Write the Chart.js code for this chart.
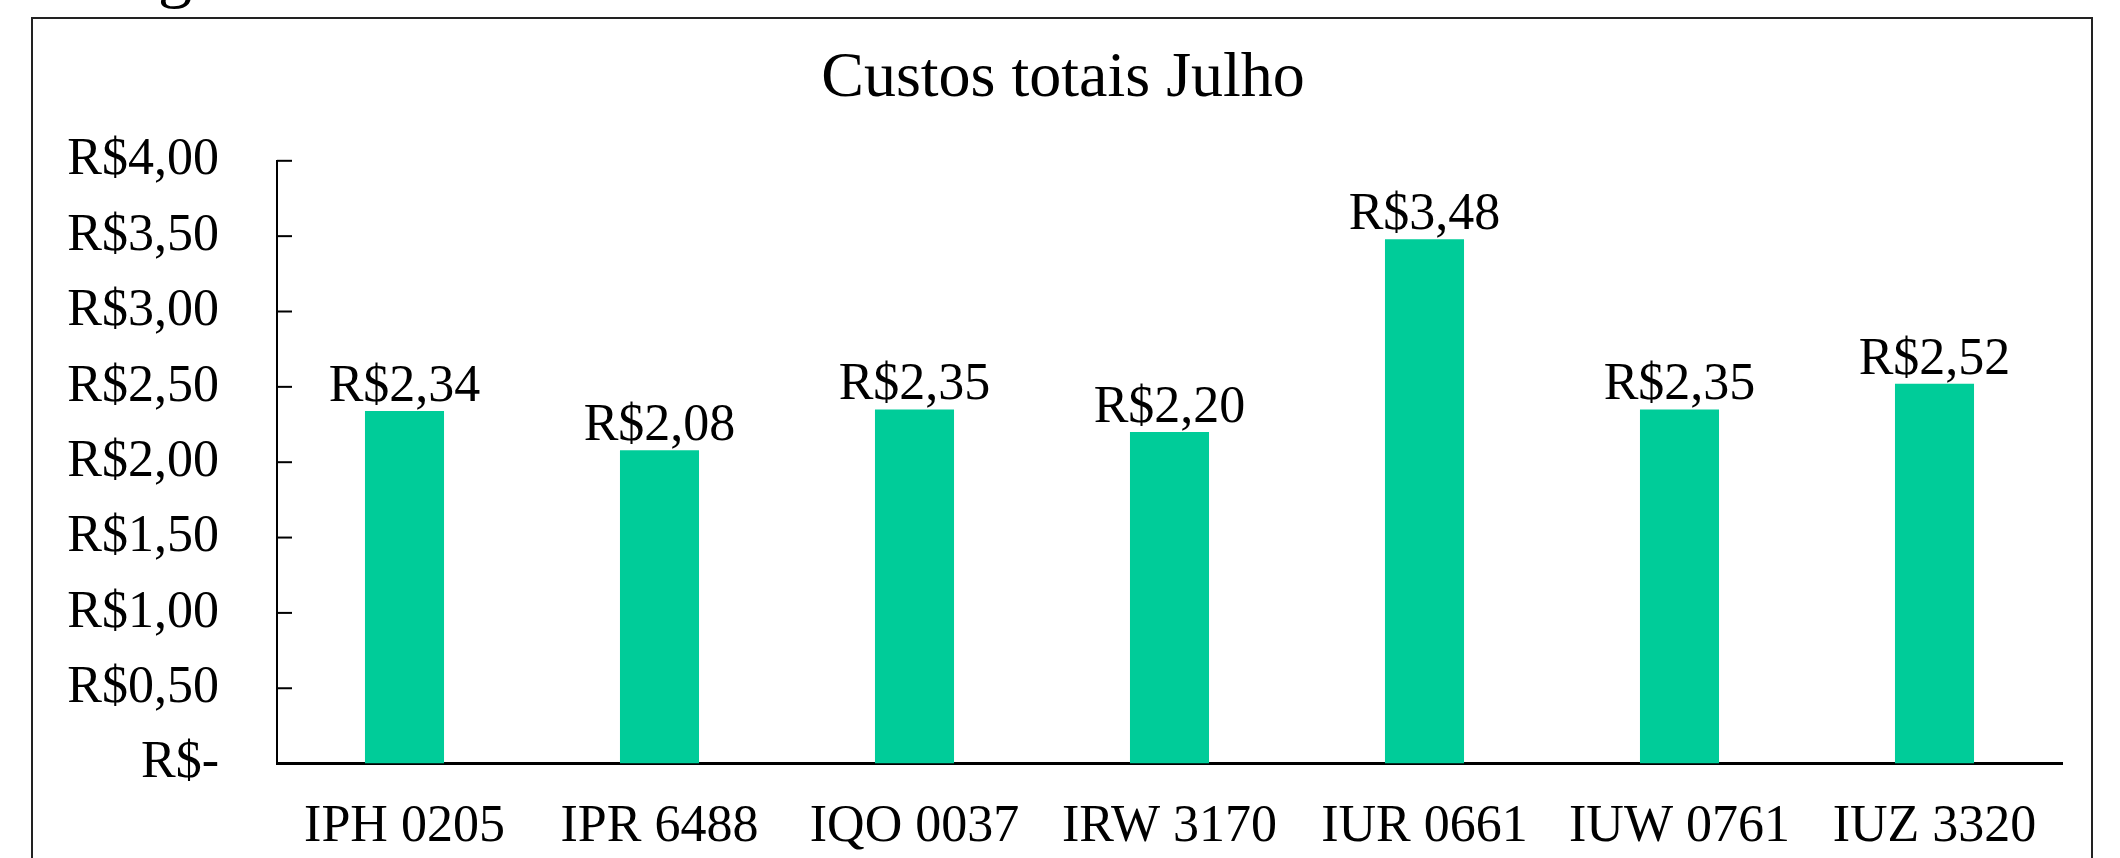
<!DOCTYPE html>
<html lang="pt-BR">

<head>
    <meta charset="UTF-8">
    <script src="https://cdn.jsdelivr.net/npm/chart.js"></script>
    <title>Custos totais Julho</title>
    <style>
        html, body { margin: 0; padding: 0; background: #fff; overflow: hidden; }
        .wrap { position: relative; width: 2120px; height: 858px; }
        canvas { position: absolute; left: 0; top: 0; }
        /* pedaço da legenda da figura acima, cortado no topo */
        .corte { position: absolute; left: 158px; top: -62px; z-index: 2; font: 68px 'Liberation Serif', serif; line-height: 1; color: #000; }
    </style>
</head>

<body>
    <div class="wrap">
        <canvas id="grafico" width="2120" height="858"></canvas>
        <div class="corte">g</div>
    </div>

<script>
    // dados
    var placas = ['IPH 0205', 'IPR 6488', 'IQO 0037', 'IRW 3170', 'IUR 0661', 'IUW 0761', 'IUZ 3320']
    var custos = [2.34, 2.08, 2.35, 2.20, 3.48, 2.35, 2.52]
    var valoresY = [0, 0.5, 1, 1.5, 2, 2.5, 3, 3.5, 4]
    var rotulosY = ['R$-', 'R$0,50', 'R$1,00', 'R$1,50', 'R$2,00', 'R$2,50', 'R$3,00', 'R$3,50', 'R$4,00']

    var fonte = "'Liberation Serif', 'Times New Roman', serif"

    function reais(v) {
        return 'R$' + v.toFixed(2).replace('.', ',')
    }

    // fundo branco + moldura da área do gráfico
    const moldura = {
        id: 'moldura',
        beforeDraw(chart) {
            const ctx = chart.ctx
            ctx.save()
            ctx.fillStyle = '#fff'
            ctx.fillRect(0, 0, chart.width, chart.height)
            ctx.strokeStyle = '#222'
            ctx.lineWidth = 2
            ctx.strokeRect(32, 18, 2060, 900)
            ctx.restore()
        }
    }

    // marcas do eixo Y para dentro
    const marcasY = {
        id: 'marcasY',
        afterDraw(chart) {
            const y = chart.scales.y
            const ctx = chart.ctx
            ctx.save()
            ctx.strokeStyle = '#000'
            ctx.lineWidth = 2
            y.ticks.forEach((t, i) => {
                const py = y.getPixelForTick(i)
                ctx.beginPath()
                ctx.moveTo(y.right, py)
                ctx.lineTo(y.right + 15, py)
                ctx.stroke()
            })
            ctx.restore()
        }
    }

    // rótulos de valor acima das barras
    const rotulos = {
        id: 'rotulos',
        afterDatasetsDraw(chart) {
            const ctx = chart.ctx
            const meta = chart.getDatasetMeta(0)
            ctx.save()
            ctx.fillStyle = '#000'
            ctx.font = '52px ' + fonte
            ctx.textAlign = 'center'
            ctx.textBaseline = 'alphabetic'
            meta.data.forEach((bar, i) => {
                ctx.fillText(reais(custos[i]), bar.x, bar.y - 10)
            })
            ctx.restore()
        }
    }

    const ctx = document.getElementById('grafico')

    new Chart(ctx, {
        type: 'bar',
        data: {
            labels: placas,
            datasets: [{
                label: 'Custos totais Julho',
                data: custos,
                backgroundColor: '#00CC99',
                borderWidth: 0,
                barPercentage: 0.31,
                categoryPercentage: 1
            }]
        },
        options: {
            responsive: false,
            animation: false,
            layout: { padding: { left: 32, right: 26, top: 18, bottom: 0 } },
            plugins: {
                legend: { display: false },
                tooltip: { enabled: false },
                title: {
                    display: true,
                    text: 'Custos totais Julho',
                    color: '#000',
                    font: { family: fonte, size: 64, weight: 'normal' },
                    padding: { top: 23, bottom: 43 }
                }
            },
            scales: {
                x: {
                    grid: { display: false, drawTicks: false },
                    border: { display: true, color: '#000', width: 3 },
                    ticks: {
                        color: '#000',
                        font: { family: fonte, size: 52 },
                        padding: 33,
                        maxRotation: 0,
                        autoSkip: false
                    },
                    afterFit(s) { s.height = s.height - 34 }
                },
                y: {
                    min: 0,
                    max: 4,
                    grid: { display: false, drawTicks: false },
                    border: { display: true, color: '#000', width: 2 },
                    ticks: {
                        stepSize: 0.5,
                        color: '#000',
                        font: { family: fonte, size: 52 },
                        padding: 58,
                        callback: function (v) {
                            const i = valoresY.indexOf(v)
                            return i >= 0 ? rotulosY[i] : ''
                        }
                    },
                    afterFit(s) { s.width = 245 }
                },
                y2: {
                    position: 'right',
                    grid: { display: false, drawTicks: false },
                    border: { display: false },
                    ticks: { display: false },
                    afterFit(s) { s.width = 32 }
                }
            }
        },
        plugins: [moldura, marcasY, rotulos]
    });
</script>
</body>

</html>
